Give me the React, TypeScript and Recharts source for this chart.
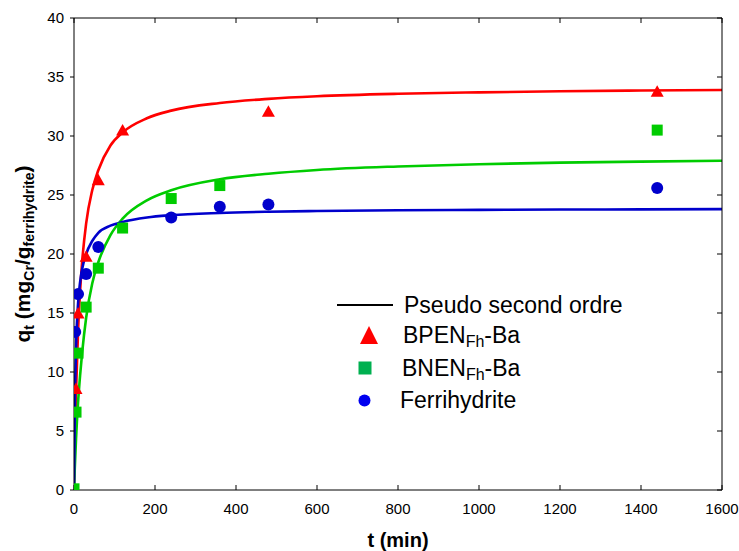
import {
  ComposedChart,
  Line,
  Scatter,
  XAxis,
  YAxis,
  Legend,
} from "recharts";

// time grid used to read the fitted pseudo-second-order curves off the figure
const fitT = [0, 2, 5, 10, 15, 20, 30, 45, 60, 90, 120, 180, 240, 360, 480, 600, 800, 1000, 1200, 1400, 1600];
const fitBpen = [0, 3.9, 8.3, 13.4, 16.8, 19.3, 22.6, 25.4, 27.1, 29.2, 30.3, 31.5, 32.15, 32.8, 33.15, 33.37, 33.58, 33.7, 33.79, 33.85, 33.9];
const fitBnen = [0, 1.9, 4.3, 7.4, 9.7, 11.6, 14.6, 17.5, 19.3, 21.6, 23.0, 24.55, 25.4, 26.33, 26.8, 27.12, 27.42, 27.61, 27.74, 27.83, 27.9];
const fitFerri = [0, 7.0, 12.0, 15.8, 17.6, 18.7, 20.0, 21.1, 21.8, 22.4, 22.71, 23.09, 23.29, 23.48, 23.58, 23.64, 23.71, 23.74, 23.77, 23.78, 23.8];

// measured points
const bpenT = [5, 10, 30, 60, 120, 480, 1440];
const bpenQ = [8.6, 15.0, 19.8, 26.3, 30.5, 32.1, 33.8];
const bnenT = [0, 5, 10, 30, 60, 120, 240, 360, 1440];
const bnenQ = [0.1, 6.6, 11.6, 15.5, 18.8, 22.2, 24.7, 25.8, 30.5];
const ferriT = [3, 10, 30, 60, 240, 360, 480, 1440];
const ferriQ = [13.4, 16.6, 18.3, 20.6, 23.1, 24.0, 24.2, 25.6];

const xTicks = [0, 200, 400, 600, 800, 1000, 1200, 1400, 1600];
const yTicks = [0, 5, 10, 15, 20, 25, 30, 35, 40];

const FONT = "'Liberation Sans', Arial, sans-serif";
const RED = "#ff0000";
const GREEN = "#00cc00";
const BLUE = "#0000cc";

const zip = (t: number[], q: number[]) => t.map((v, i) => ({ t: v, q: q[i] }));

const bpenFit = zip(fitT, fitBpen);
const bnenFit = zip(fitT, fitBnen);
const ferriFit = zip(fitT, fitFerri);
const bpenPts = zip(bpenT, bpenQ);
const bnenPts = zip(bnenT, bnenQ);
const ferriPts = zip(ferriT, ferriQ);

const Triangle = (p: any) => (
  <polygon
    points={`${p.cx - 6.5},${p.cy + 5.5} ${p.cx + 6.5},${p.cy + 5.5} ${p.cx},${p.cy - 6}`}
    fill={RED}
  />
);
const Square = (p: any) => (
  <rect x={p.cx - 5.5} y={p.cy - 5.5} width={11} height={11} fill={GREEN} />
);
const Dot = (p: any) => <circle cx={p.cx} cy={p.cy} r={6} fill={BLUE} />;
const NoTick = () => <g />;

function YTitle(props: any) {
  const vb = props.viewBox;
  const cy = vb.y + vb.height / 2;
  const x = 30;
  return (
    <text
      x={x}
      y={cy}
      transform={`rotate(-90, ${x}, ${cy})`}
      textAnchor="middle"
      fontFamily={FONT}
      fontWeight="bold"
      fontSize={21}
      fill="#000"
    >
      q
      <tspan fontSize={14} dy={4}>t</tspan>
      <tspan dy={-4}> (mg</tspan>
      <tspan fontSize={14} dy={4}>Cr</tspan>
      <tspan dy={-4}>/g</tspan>
      <tspan fontSize={14} dy={4}>ferrihydrite</tspan>
      <tspan dy={-4}>)</tspan>
    </text>
  );
}

function LegendBox() {
  const txt = { fontFamily: FONT, fontSize: 23, fill: "#000" } as const;
  return (
    <svg width={330} height={130} style={{ display: "block" }}>
      <line x1={7} y1={17} x2={63} y2={17} stroke="#000" strokeWidth={2} />
      <text x={74} y={25} {...txt}>Pseudo second ordre</text>
      <polygon points="30,56 48,56 39,38" fill={RED} />
      <text x={73} y={55} {...txt}>
        BPEN<tspan fontSize={16} dy={4}>Fh</tspan>
        <tspan dy={-4}>-Ba</tspan>
      </text>
      <rect x={28.5} y={73.5} width={13} height={13} fill="#00b050" />
      <text x={72} y={88} {...txt}>
        BNEN<tspan fontSize={16} dy={4}>Fh</tspan>
        <tspan dy={-4}>-Ba</tspan>
      </text>
      <circle cx={34.5} cy={112.5} r={6} fill="#0000f0" />
      <text x={70} y={120} {...txt}>Ferrihydrite</text>
    </svg>
  );
}

export default function App() {
  const tickStyle = { fill: "#000", fontSize: 15, fontFamily: FONT };
  return (
    <div style={{ position: "absolute", left: 0, top: 0, background: "#fff" }}>
      <ComposedChart
        width={739}
        height={551}
        margin={{ top: 17, right: 16, bottom: 0, left: 0 }}
      >
        <XAxis
          xAxisId="bottom"
          dataKey="t"
          type="number"
          domain={[0, 1600]}
          ticks={xTicks}
          height={61}
          stroke="#000"
          tickSize={-5}
          tickMargin={18}
          tick={tickStyle}
          allowDataOverflow
          label={{
            value: "t (min)",
            position: "insideBottom",
            offset: 4,
            fill: "#000",
            fontSize: 20,
            fontWeight: "bold",
            fontFamily: FONT,
          }}
        />
        <XAxis
          xAxisId="top"
          orientation="top"
          dataKey="t"
          type="number"
          domain={[0, 1600]}
          ticks={xTicks}
          height={1}
          stroke="#000"
          tickSize={-5}
          tick={NoTick}
          allowDataOverflow
        />
        <YAxis
          yAxisId="left"
          type="number"
          domain={[0, 40]}
          ticks={yTicks}
          width={74}
          stroke="#000"
          tickSize={4}
          tickMargin={6}
          tick={tickStyle}
          allowDataOverflow
          label={{ content: YTitle }}
        />
        <YAxis
          yAxisId="right"
          orientation="right"
          type="number"
          domain={[0, 40]}
          ticks={yTicks}
          width={1}
          stroke="#000"
          tickSize={-5}
          tick={NoTick}
          allowDataOverflow
        />
        <Legend
          layout="vertical"
          align="center"
          verticalAlign="middle"
          content={() => <LegendBox />}
          wrapperStyle={{ left: 330, top: 288, width: 330, height: 130 }}
        />
        <Line
          xAxisId="bottom"
          yAxisId="left"
          data={bpenFit}
          dataKey="q"
          type="monotone"
          stroke={RED}
          strokeWidth={2.6}
          dot={false}
          isAnimationActive={false}
        />
        <Line
          xAxisId="bottom"
          yAxisId="left"
          data={bnenFit}
          dataKey="q"
          type="monotone"
          stroke={GREEN}
          strokeWidth={2.6}
          dot={false}
          isAnimationActive={false}
        />
        <Line
          xAxisId="bottom"
          yAxisId="left"
          data={ferriFit}
          dataKey="q"
          type="monotone"
          stroke={BLUE}
          strokeWidth={2.6}
          dot={false}
          isAnimationActive={false}
        />
        <Scatter
          xAxisId="bottom"
          yAxisId="left"
          data={bpenPts}
          dataKey="q"
          shape={Triangle}
          isAnimationActive={false}
        />
        <Scatter
          xAxisId="bottom"
          yAxisId="left"
          data={bnenPts}
          dataKey="q"
          shape={Square}
          isAnimationActive={false}
        />
        <Scatter
          xAxisId="bottom"
          yAxisId="left"
          data={ferriPts}
          dataKey="q"
          shape={Dot}
          isAnimationActive={false}
        />
      </ComposedChart>
    </div>
  );
}
